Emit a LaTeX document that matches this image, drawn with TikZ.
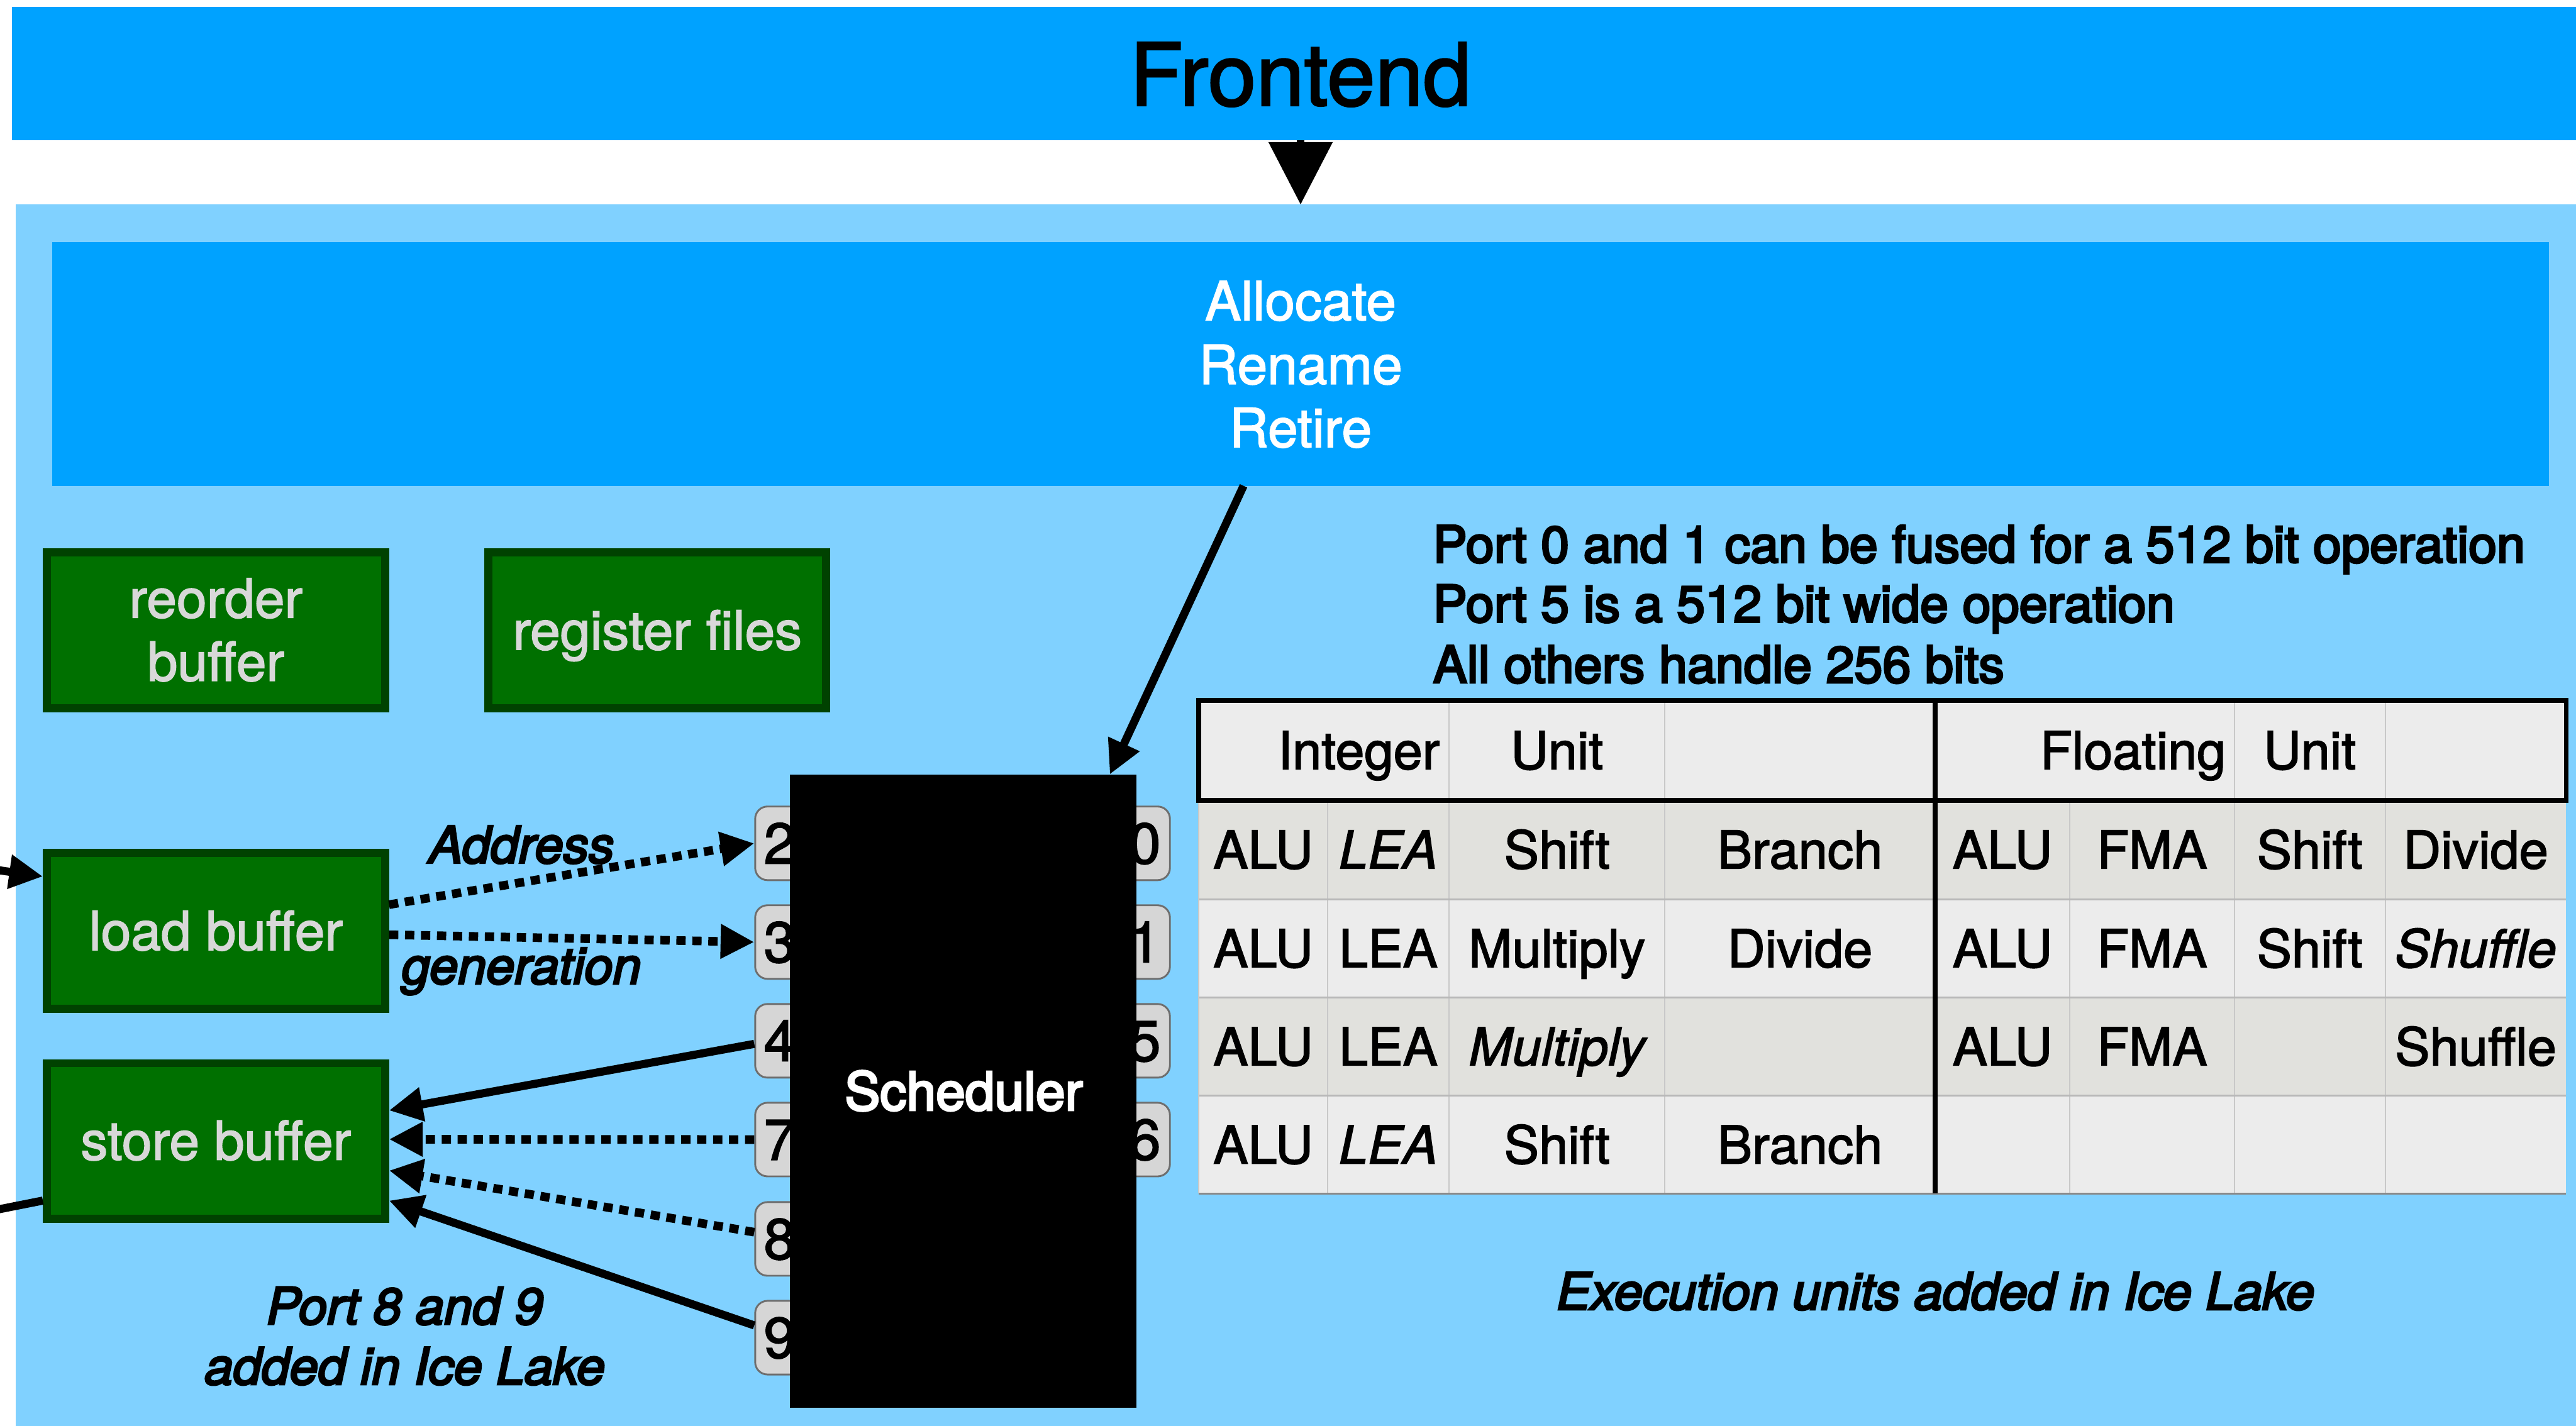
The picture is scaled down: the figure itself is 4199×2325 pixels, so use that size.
\documentclass[tikz,border=0pt]{standalone}
\usepackage{fontspec}
\setmainfont{TeX Gyre Heros}[FakeBold=2]
\newfontfamily\medfont{TeX Gyre Heros}[FakeBold=4]
\usetikzlibrary{arrows.meta,calc}
\definecolor{feblue}{RGB}{0,162,255}
\definecolor{coreblue}{RGB}{128,209,255}
\definecolor{gfill}{RGB}{0,112,0}
\definecolor{gborder}{RGB}{0,66,0}
\definecolor{gtext}{RGB}{216,216,216}
\definecolor{pfill}{RGB}{214,214,214}
\definecolor{pdraw}{RGB}{110,110,110}
\definecolor{rowlight}{RGB}{236,236,236}
\definecolor{rowdark}{RGB}{225,225,221}
\definecolor{tline}{RGB}{200,200,200}
\definecolor{rsep}{RGB}{184,184,184}
\definecolor{tbottom}{RGB}{138,138,138}
\begin{document}
\begin{tikzpicture}[x=0.01cm,y=-0.01cm,
  plain/.style={inner sep=0pt,outer sep=0pt},
  conn/.style={line width=3.75pt,-{Triangle[length=15.6pt,width=15.1pt]}},
  dotconn/.style={conn,line width=4pt,dash pattern=on 4.3pt off 3.1pt},
  greenbox/.style={draw=gborder,fill=gfill,line width=3.7pt,minimum width=5.51cm,minimum height=2.54cm,inner sep=0pt},
  portbox/.style={draw=pdraw,fill=pfill,line width=0.85pt,rounded corners=5.7pt,minimum width=0.8cm,minimum height=1.2cm,inner sep=0pt},
  gtxt/.style={plain,anchor=base,text=gtext,font=\fontsize{25pt}{29.3pt}\selectfont},
  atxt/.style={plain,anchor=base,text=white,font=\fontsize{25pt}{29.3pt}\selectfont},
  ttxt/.style={plain,anchor=base,font=\fontsize{24.2pt}{29pt}\selectfont},
  ntxt/.style={plain,anchor=base west,font=\medfont\fontsize{23.6pt}{28pt}\selectfont},
  itxt/.style={plain,anchor=base,font=\medfont\itshape\fontsize{23.6pt}{28pt}\selectfont},
  dtxt/.style={plain,anchor=base,font=\fontsize{26.6pt}{30pt}\selectfont},
  thin/.style={draw=tline,line width=0.6pt},
  thick/.style={draw=black,line width=2.28pt}
]
\useasboundingbox (0,0) rectangle (4199,2325);
\clip (0,0) rectangle (4199,2325);
\fill[white] (0,0) rectangle (4199,2325);

% frontend bar and core area
\node[plain,fill=feblue,minimum width=41.99cm,minimum height=2.18cm] (frontend) at (2120.5,120) {};
\node[plain,anchor=base,font=\fontsize{40.1pt}{48pt}\selectfont] (fetext) at (2120,172) {Frontend};
\node[plain,fill=coreblue,minimum width=41.93cm,minimum height=20.06cm] (core) at (2123.5,1337) {};
\draw[line width=3.41pt,-{Triangle[length=29pt,width=29pt]}] (frontend.south -| fetext.south) -- (core.north -| fetext.south);

% allocate box
\node[plain,fill=feblue,minimum width=40.68cm,minimum height=3.97cm] (alloc) at (2120,593.5) {};
\node[atxt] (al1) at (2120,522) {Allocate};
\node[atxt] (al2) at (2120,626) {Rename};
\node[atxt] (al3) at (2120,729) {Retire};

% green boxes
\node[greenbox] (rob) at (352,1027.5) {};
\node[gtxt] (rob1) at (352,1007) {reorder};
\node[gtxt] (rob2) at (352,1110) {buffer};
\node[greenbox,minimum width=5.50cm] (regf) at (1071.5,1027.5) {};
\node[gtxt] (regft) at (1071.5,1059) {register files};
\node[greenbox] (load) at (352,1518) {};
\node[gtxt] (loadt) at (352,1549) {load buffer};
\node[greenbox] (store) at (352,1860.5) {};
\node[gtxt] (storet) at (352,1891) {store buffer};

% ports
\node[portbox] (p2) at (1271,1375) {};
\node[portbox] (p3) at (1271,1536) {};
\node[portbox] (p4) at (1271,1697) {};
\node[portbox] (p7) at (1271,1858) {};
\node[portbox] (p8) at (1271,2020) {};
\node[portbox] (p9) at (1271,2181) {};
\node[portbox] (p0) at (1867,1375) {};
\node[portbox] (p1) at (1867,1536) {};
\node[portbox] (p5) at (1867,1697) {};
\node[portbox] (p6) at (1867,1858) {};
\node[dtxt] (d2) at (1271,1408) {2};
\node[dtxt] (d3) at (1271,1569) {3};
\node[dtxt] (d4) at (1271,1730) {4};
\node[dtxt] (d7) at (1271,1891) {7};
\node[dtxt] (d8) at (1271,2053) {8};
\node[dtxt] (d9) at (1271,2214) {9};
\node[dtxt] (d0) at (1866,1408) {0};
\node[dtxt] (d1) at (1866,1569) {1};
\node[dtxt] (d5) at (1866,1730) {5};
\node[dtxt] (d6) at (1866,1891) {6};

% scheduler
\node[plain,fill=black,minimum width=5.64cm,minimum height=10.32cm] (sched) at (1570,1779) {};
\node[plain,anchor=base,text=white,font=\medfont\fontsize{24.5pt}{29pt}\selectfont] (schedt) at (1571,1810) {Scheduler};

% connectors
\draw[conn] ($(alloc.south)+(-93,0)$) -- ($(sched.north)+(239,0)$);
\draw[dotconn] ($(load.east)+(0,-43)$) -- (p2.west);
\draw[dotconn] ($(load.east)+(0,6)$) -- (p3.west);
\draw[conn] ($(p4.west)+(0,5)$) -- ($(store.east)+(0,-50)$);
\draw[dotconn] (p7.west) -- ($(store.east)+(0,-3)$);
\draw[dotconn] ($(p8.west)+(0,-11)$) -- ($(store.east)+(0,48)$);
\draw[conn] ($(p9.west)+(0,-20)$) -- ($(store.east)+(0,97)$);
\coordinate (inL) at (-200,1391);
\draw[conn] (inL) -- ($(load.west)+(0,-89)$);
\coordinate (outL) at (-200,2011);
\draw[line width=3.75pt] ($(store.west)+(0,97)$) -- (outL);

% labels
\node[itxt] (addr) at (850,1407) {Address};
\node[itxt] (gen) at (850,1604) {generation};
\node[itxt] (p89a) at (660,2159) {Port 8 and 9};
\node[itxt] (p89b) at (660,2257) {added in Ice Lake};
\node[itxt] (exec) at (3155,2135) {Execution units added in Ice Lake};
\node[ntxt] (n1) at (2336,917) {Port 0 and 1 can be fused for a 512 bit operation};
\node[ntxt] (n2) at (2336,1014) {Port 5 is a 512 bit wide operation};
\node[ntxt] (n3) at (2336,1113) {All others handle 256 bits};

% table
\fill[rowlight] (1954,1142) rectangle (4183,1305);
\fill[rowdark] (1954,1305) rectangle (4183,1466);
\fill[rowlight] (1954,1466) rectangle (4183,1626);
\fill[rowdark] (1954,1626) rectangle (4183,1786);
\fill[rowlight] (1954,1786) rectangle (4183,1946);
\foreach \x in {2164,2362,2714,3374,3642,3888} \draw[thin] (\x,1305) -- (\x,1946);
\foreach \x in {2362,2714,3642,3888} \draw[thin] (\x,1142) -- (\x,1305);
\foreach \y in {1466,1626,1786} \draw[draw=rsep,line width=0.9pt] (1954,\y) -- (4183,\y);
\draw[thin] (1954,1305) -- (1954,1946);
\draw[draw=tbottom,line width=0.9pt] (1954,1946) -- (4183,1946);
\draw[thick] (1954,1142) rectangle (4183,1305);
\draw[thick] (3154,1142) -- (3154,1946);

\node[ttxt] (h1) at (2215,1254) {Integer};
\node[ttxt] (h2) at (2538,1254) {Unit};
\node[ttxt] (h3) at (3477,1254) {Floating};
\node[ttxt] (h4) at (3765,1254) {Unit};

\node[ttxt] (a1) at (2059,1416) {ALU};
\node[ttxt] (a2) at (2263,1416) {\itshape LEA};
\node[ttxt] (a3) at (2538,1416) {Shift};
\node[ttxt] (a4) at (2934,1416) {Branch};
\node[ttxt] (a5) at (3264,1416) {ALU};
\node[ttxt] (a6) at (3508,1416) {FMA};
\node[ttxt] (a7) at (3765,1416) {Shift};
\node[ttxt] (a8) at (4035.5,1416) {Divide};

\node[ttxt] (b1) at (2059,1577) {ALU};
\node[ttxt] (b2) at (2263,1577) {LEA};
\node[ttxt] (b3) at (2538,1577) {Multiply};
\node[ttxt] (b4) at (2934,1577) {Divide};
\node[ttxt] (b5) at (3264,1577) {ALU};
\node[ttxt] (b6) at (3508,1577) {FMA};
\node[ttxt] (b7) at (3765,1577) {Shift};
\node[ttxt] (b8) at (4035.5,1577) {\itshape Shuffle};

\node[ttxt] (c1) at (2059,1737) {ALU};
\node[ttxt] (c2) at (2263,1737) {LEA};
\node[ttxt] (c3) at (2538,1737) {\itshape Multiply};
\node[ttxt] (c5) at (3264,1737) {ALU};
\node[ttxt] (c6) at (3508,1737) {FMA};
\node[ttxt] (c8) at (4035.5,1737) {Shuffle};

\node[ttxt] (e1) at (2059,1897) {ALU};
\node[ttxt] (e2) at (2263,1897) {\itshape LEA};
\node[ttxt] (e3) at (2538,1897) {Shift};
\node[ttxt] (e4) at (2934,1897) {Branch};
\end{tikzpicture}
\end{document}
